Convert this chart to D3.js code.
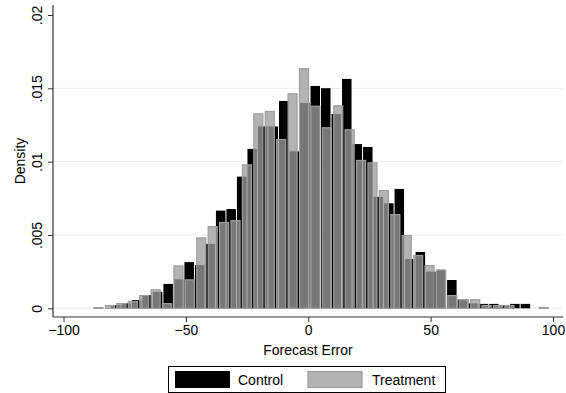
<!DOCTYPE html>
<html>
<head>
<meta charset="utf-8">
<script src="https://cdn.jsdelivr.net/npm/d3@7"></script>
<style>
  body { margin: 0; background: #fff; }
  svg text { font-family: "Liberation Sans", Arial, sans-serif; fill: #000; }
</style>
</head>
<body>
<svg id="chart"></svg>
<script>
const WIDTH = 566;
const HEIGHT = 393;

// histogram bins: first left edge and bin width (forecast error units)
const controlStart = -80.85;
const controlWidth = 4.293;
const treatStart = -88.0;
const treatWidth = 4.663;

// densities per bin
const controlDensity = [
  0.00022, 0.00034, 0.00056, 0.0009, 0.00112, 0.00166, 0.00198, 0.00315,
  0.00295, 0.00439, 0.00666, 0.00677, 0.00898, 0.01087, 0.0124, 0.0124,
  0.01414, 0.0107, 0.014, 0.01516, 0.01501, 0.01325, 0.01564, 0.0112,
  0.011, 0.0076, 0.00716, 0.00814, 0.00336, 0.00384, 0.0025, 0.0026,
  0.00193, 0.0006, 0.00034, 0.0003, 0.0003, 0.0002, 0.0003, 0.0003,
];
const treatDensity = [
  0.00009, 0.00023, 0.00036, 0.0005, 0.00091, 0.0013, 0.00036, 0.00293,
  0.00198, 0.00484, 0.00561, 0.00589, 0.00602, 0.00982, 0.0133, 0.01346,
  0.01155, 0.01467, 0.01637, 0.01382, 0.01235, 0.01385, 0.01221, 0.01012,
  0.00996, 0.00807, 0.00643, 0.005, 0.00364, 0.00295, 0.00266, 0.00091,
  0.00063, 0.00063, 0.00023, 0.00023, 0.00023, 0, 0, 0.0001,
];

const xTicks = [-100, -50, 0, 50, 100];
const yTicks = [0, 0.005, 0.01, 0.015, 0.02];
const yTickLabels = ["0", ".005", ".01", ".015", ".02"];
const gridValues = [0, 0.005, 0.01, 0.015];
const legendItems = ["Control", "Treatment"];

const svg = d3.select("#chart").attr("width", WIDTH).attr("height", HEIGHT);

const xScale = d3.scaleLinear().domain([-100, 100]).range([63.5, 553]);
const yScale = d3.scaleLinear().domain([0, 0.02]).range([308.3, 15]);

const AXIS_X = 53;
const AXIS_Y = 317;

// gridlines
svg.append("g")
  .selectAll("line")
  .data(gridValues)
  .enter()
  .append("line")
  .attr("x1", AXIS_X)
  .attr("x2", 562)
  .attr("y1", (d) => yScale(d))
  .attr("y2", (d) => yScale(d))
  .attr("stroke", "#e6eef0")
  .attr("stroke-width", 1);

const toBins = (start, width, dens) =>
  dens.map((d, i) => ({ x0: start + i * width, x1: start + (i + 1) * width, d }));

const controlBins = toBins(controlStart, controlWidth, controlDensity);
const treatBins = toBins(treatStart, treatWidth, treatDensity);

// control bars
svg.append("g")
  .selectAll("rect")
  .data(controlBins.filter((b) => b.d > 0))
  .enter()
  .append("rect")
  .attr("x", (b) => xScale(b.x0) + 0.5)
  .attr("width", (b) => xScale(b.x1) - xScale(b.x0) - 1)
  .attr("y", (b) => yScale(b.d))
  .attr("height", (b) => yScale(0) - yScale(b.d))
  .attr("fill", "#000");

// treatment bars, semi-transparent on top
svg.append("g")
  .selectAll("rect")
  .data(treatBins.filter((b) => b.d > 0))
  .enter()
  .append("rect")
  .attr("x", (b) => xScale(b.x0) + 1.2)
  .attr("width", (b) => xScale(b.x1) - xScale(b.x0) - 2.4)
  .attr("y", (b) => yScale(b.d) + 0.6)
  .attr("height", (b) => Math.max(0, yScale(0) - yScale(b.d) - 0.6))
  .attr("fill", "rgb(155,155,155)")
  .attr("fill-opacity", 0.765)
  .attr("stroke", "rgb(158,158,158)")
  .attr("stroke-width", 1.2);

// axes
const xAxis = d3.axisBottom(xScale).tickValues(xTicks).tickSize(5).tickPadding(3)
  .tickFormat(d3.format("d"));
const yAxis = d3.axisLeft(yScale).tickValues(yTicks).tickSize(5).tickPadding(3)
  .tickFormat((d, i) => yTickLabels[i]);

const gx = svg.append("g").attr("transform", `translate(0, ${AXIS_Y})`).call(xAxis);
gx.select(".domain").remove();
gx.selectAll(".tick line").attr("stroke", "#333");
gx.selectAll(".tick text")
  .attr("font-size", 14)
  .attr("font-family", "Liberation Sans, Arial, sans-serif")
  .attr("fill", "#000");

const gy = svg.append("g").attr("transform", `translate(${AXIS_X}, 0)`).call(yAxis);
gy.select(".domain").remove();
gy.selectAll(".tick line").attr("stroke", "#333");
gy.selectAll(".tick text")
  .attr("font-size", 14)
  .attr("font-family", "Liberation Sans, Arial, sans-serif")
  .attr("fill", "#000")
  .attr("x", null)
  .attr("dy", null)
  .attr("text-anchor", "middle")
  .attr("transform", "translate(-11.5, 0) rotate(-90)");

svg.append("line")
  .attr("x1", AXIS_X).attr("x2", AXIS_X)
  .attr("y1", 5).attr("y2", AXIS_Y)
  .attr("stroke", "#333").attr("stroke-width", 1.2);
svg.append("line")
  .attr("x1", AXIS_X).attr("x2", 563)
  .attr("y1", AXIS_Y).attr("y2", AXIS_Y)
  .attr("stroke", "#333").attr("stroke-width", 1.2);

// axis titles
svg.append("text")
  .attr("transform", "translate(25, 161) rotate(-90)")
  .attr("text-anchor", "middle")
  .attr("font-size", 14)
  .text("Density");

svg.append("text")
  .attr("x", 308)
  .attr("y", 355)
  .attr("text-anchor", "middle")
  .attr("font-size", 14)
  .text("Forecast Error");

// legend
const legend = svg.append("g");
legend.append("rect")
  .attr("x", 168.5).attr("y", 366.5)
  .attr("width", 277).attr("height", 26)
  .attr("fill", "#fff").attr("stroke", "#000").attr("stroke-width", 1);

legend.append("rect")
  .attr("x", 175).attr("y", 371)
  .attr("width", 55).attr("height", 17)
  .attr("fill", "#000");
legend.append("rect")
  .attr("x", 308).attr("y", 371.5)
  .attr("width", 54).attr("height", 16)
  .attr("fill", "rgb(155,155,155)").attr("fill-opacity", 0.765)
  .attr("stroke", "rgb(158,158,158)").attr("stroke-width", 1.2);

legend.selectAll("text.lab")
  .data(legendItems)
  .enter()
  .append("text")
  .attr("class", "lab")
  .attr("x", (d, i) => (i === 0 ? 238 : 372))
  .attr("y", 385)
  .attr("font-size", 14)
  .text((d) => d);
</script>
</body>
</html>
